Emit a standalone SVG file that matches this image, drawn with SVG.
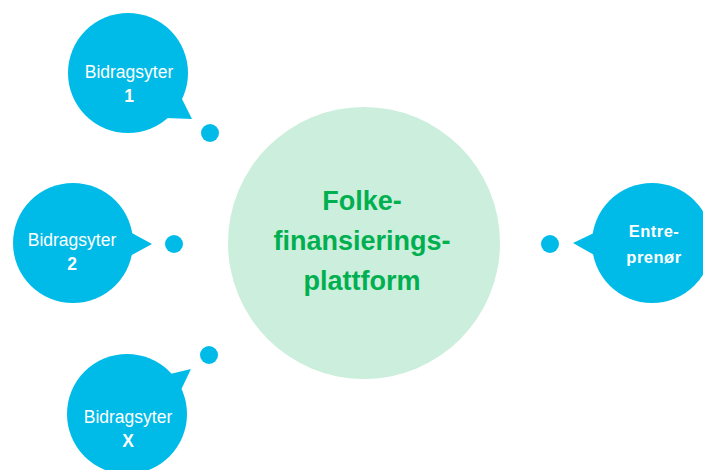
<svg xmlns="http://www.w3.org/2000/svg" width="703" height="470" viewBox="0 0 703 470">
<style>
.bub{fill:#00BBE8}
.dot{fill:#00BBE8}
.lbl{font-family:"Liberation Sans",Arial,sans-serif;font-size:17.5px;fill:#ffffff;text-anchor:middle}
.num{font-weight:bold}
.ent{font-family:"Liberation Sans",Arial,sans-serif;font-size:16.5px;font-weight:bold;fill:#ffffff;text-anchor:middle;letter-spacing:0.5px}
.ctr{font-family:"Liberation Sans",Arial,sans-serif;font-size:27px;font-weight:bold;fill:#00B050;text-anchor:middle}
</style>
<rect width="703" height="470" fill="#ffffff"/>
<g id="platform">
<circle cx="364" cy="243" r="136" fill="#CCEEDD"/>
<text class="ctr" x="362" y="210">Folke-</text>
<text class="ctr" x="362" y="250">finansierings-</text>
<text class="ctr" x="362" y="290">plattform</text>
</g>
<g id="bidragsyter1">
<circle class="bub" cx="128" cy="73" r="60"/>
<polygon class="bub" points="180,95 166,118 192,119"/>
<text class="lbl" x="129" y="78">Bidragsyter</text>
<text class="lbl num" x="129" y="102">1</text>
</g>
<g id="bidragsyter2">
<circle class="bub" cx="73" cy="243" r="60"/>
<polygon class="bub" points="130,232 130,256 152,244"/>
<text class="lbl" x="72" y="246">Bidragsyter</text>
<text class="lbl num" x="72" y="270">2</text>
</g>
<g id="bidragsyterX">
<circle class="bub" cx="127" cy="414" r="60"/>
<polygon class="bub" points="166,375 191,369 180,392"/>
<text class="lbl" x="128" y="423">Bidragsyter</text>
<text class="lbl num" x="128" y="447">X</text>
</g>
<g id="entreprenor">
<circle class="bub" cx="652" cy="243" r="60"/>
<polygon class="bub" points="596,232 596,256 573,243"/>
<text class="ent" x="654" y="237">Entre-</text>
<text class="ent" x="654" y="263">prenør</text>
</g>
<g id="connectors">
<circle class="dot" cx="210" cy="133" r="9"/>
<circle class="dot" cx="174" cy="244" r="9"/>
<circle class="dot" cx="209" cy="355" r="9"/>
<circle class="dot" cx="550" cy="244" r="9"/>
</g>
</svg>
